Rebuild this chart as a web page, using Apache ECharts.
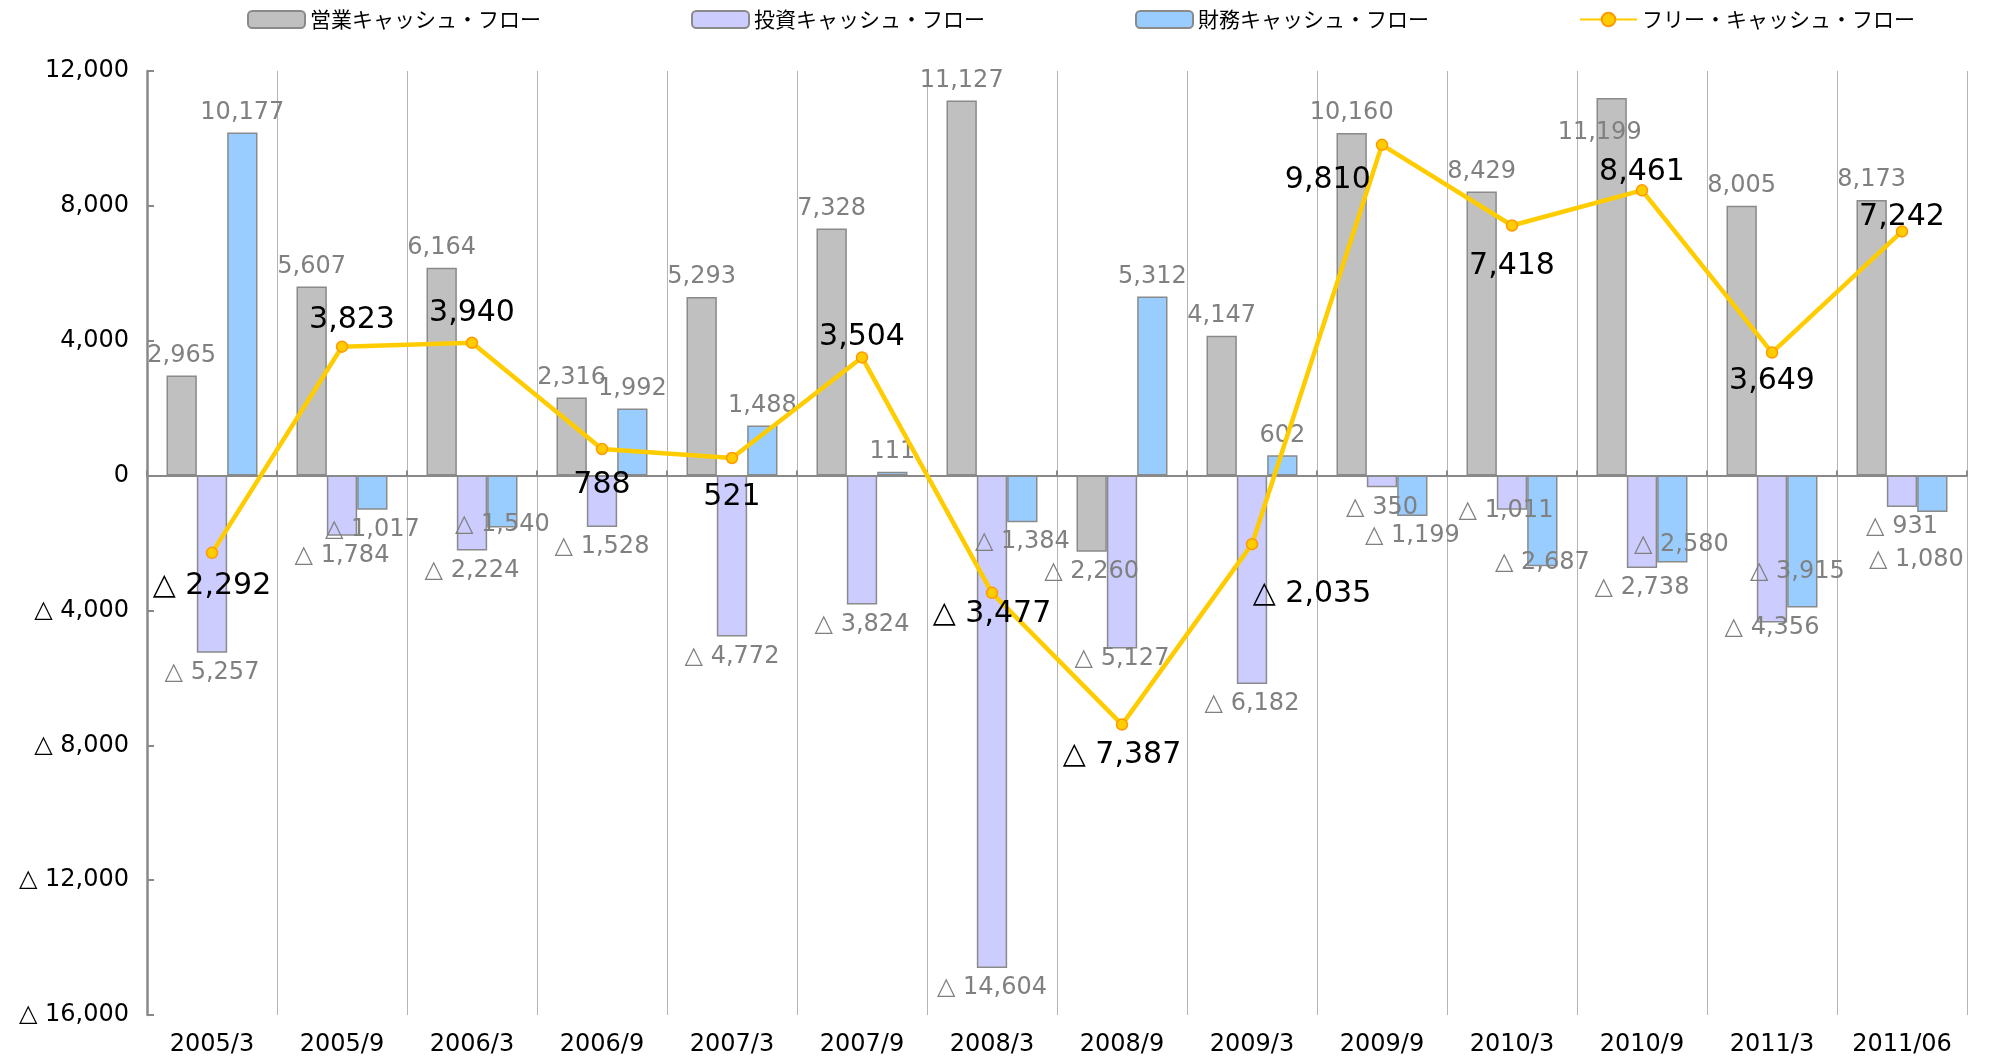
<!DOCTYPE html>
<html>
<head>
<meta charset="utf-8">
<script src="https://cdn.jsdelivr.net/npm/echarts@6/dist/echarts.min.js"></script>
<style>
    html, body { margin: 0; padding: 0; background: #fff; }
    #chart1 { width: 1991px; height: 1057px; }
</style>
</head>
<body>
<div id="chart1"></div>
<script>
var categories = ['2005/3', '2005/9', '2006/3', '2006/9', '2007/3', '2007/9', '2008/3', '2008/9', '2009/3', '2009/9', '2010/3', '2010/9', '2011/3', '2011/06'];
var operatingCF = [2965, 5607, 6164, 2316, 5293, 7328, 11127, -2260, 4147, 10160, 8429, 11199, 8005, 8173];
var investingCF = [-5257, -1784, -2224, -1528, -4772, -3824, -14604, -5127, -6182, -350, -1011, -2738, -4356, -931];
var financingCF = [10177, -1017, -1540, 1992, 1488, 111, -1384, 5312, 602, -1199, -2687, -2580, -3915, -1080];
var freeCF = [-2292, 3823, 3940, 788, 521, 3504, -3477, -7387, -2035, 9810, 7418, 8461, 3649, 7242];
var seriesNames = ['営業キャッシュ・フロー', '投資キャッシュ・フロー', '財務キャッシュ・フロー', 'フリー・キャッシュ・フロー'];

// ラベルの微調整（重なり回避）
var lineLabelPos = ['bottom', 'top', 'top', 'bottom', 'bottom', 'top', 'bottom', 'bottom', 'bottom', 'left', 'bottom', 'top', 'bottom', 'top'];
var lineLabelOffset = [[0, 7], [10, 0], [0, -3], [0, 10], [0, 13], [0, 6], [0, -5], [0, 4], [60, 24], [0, 35], [0, 14], [0, 8], [0, 2], [0, 12]];
var opLabelOffset = { 11: [-12, 55] };
var invLabelOffset = { 7: [0, -10], 10: [-6, -19], 12: [0, -15] };
var finLabelOffset = { 2: [0, -23], 10: [0, -23], 11: [9, -38], 12: [-5, -56], 13: [-16, 28] };

var numFont = 'DejaVu Sans, Noto Sans CJK JP';

function fmt(v) {
    var s = Math.abs(v).toLocaleString('en-US');
    return v < 0 ? '△ ' + s : s;
}

function barData(arr, offsets) {
    return arr.map(function (v, i) {
        return {
            value: v,
            label: { position: v < 0 ? 'bottom' : 'top', offset: offsets[i] || [0, 0] }
        };
    });
}

function barSeries(name, arr, color, offsets) {
    return {
        name: name,
        type: 'bar',
        barGap: '0%',
        barCategoryGap: '30%',
        data: barData(arr, offsets),
        itemStyle: {
            color: color,
            borderColor: '#8a8a8a',
            borderWidth: 1.5
        },
        label: {
            show: true,
            color: '#808080',
            fontSize: 24,
            fontFamily: numFont,
            distance: 8,
            formatter: function (p) { return fmt(p.value); }
        }
    };
}

chart1();

function chart1() {
    var myChart = echarts.init(document.getElementById('chart1'));
    var option = {
        animation: false,
        backgroundColor: '#fff',
        legend: {
            top: 4,
            left: 242,
            itemWidth: 57,
            itemHeight: 17,
            itemGap: 150,
            textStyle: {
                fontFamily: 'Noto Sans CJK JP',
                fontSize: 21,
                color: '#000'
            },
            data: seriesNames
        },
        grid: {
            left: 147,
            right: 24,
            top: 71,
            bottom: 42
        },
        xAxis: [{
            type: 'category',
            data: categories,
            position: 'bottom',
            axisLine: { show: false, onZero: false },
            axisTick: { show: false },
            axisLabel: {
                color: '#000',
                fontSize: 24,
                fontFamily: numFont,
                margin: 18
            },
            splitLine: {
                show: true,
                lineStyle: { color: '#b4b4b4', width: 1 }
            }
        }, {
            type: 'category',
            data: categories,
            position: 'top',
            axisLine: { show: true, onZero: true, lineStyle: { color: '#888', width: 2 } },
            axisTick: { show: true, length: 5, lineStyle: { color: '#888', width: 2 } },
            axisLabel: { show: false },
            splitLine: { show: false }
        }],
        yAxis: {
            type: 'value',
            min: -16000,
            max: 12000,
            interval: 4000,
            axisLine: { show: true, lineStyle: { color: '#888', width: 2.5 } },
            axisTick: { show: true, inside: true, length: 7, lineStyle: { color: '#888', width: 2 } },
            splitLine: { show: false },
            axisLabel: {
                color: '#000',
                fontSize: 24,
                fontFamily: numFont,
                margin: 18,
                formatter: function (v) { return fmt(v); }
            }
        },
        series: [
            barSeries(seriesNames[0], operatingCF, '#c0c0c0', opLabelOffset),
            barSeries(seriesNames[1], investingCF, '#ccccff', invLabelOffset),
            barSeries(seriesNames[2], financingCF, '#99ccff', finLabelOffset),
            {
                name: seriesNames[3],
                type: 'line',
                z: 5,
                data: freeCF.map(function (v, i) {
                    return {
                        value: v,
                        label: { position: lineLabelPos[i], offset: lineLabelOffset[i] }
                    };
                }),
                symbol: 'circle',
                symbolSize: 11,
                lineStyle: { color: '#ffcc00', width: 4.5 },
                itemStyle: { color: '#ffcc00', borderColor: '#ff9900', borderWidth: 1.5 },
                label: {
                    show: true,
                    color: '#000',
                    fontSize: 30,
                    fontFamily: numFont,
                    distance: 5,
                    formatter: function (p) { return fmt(p.value); }
                }
            }
        ]
    };
    myChart.setOption(option);
}
</script>
</body>
</html>
